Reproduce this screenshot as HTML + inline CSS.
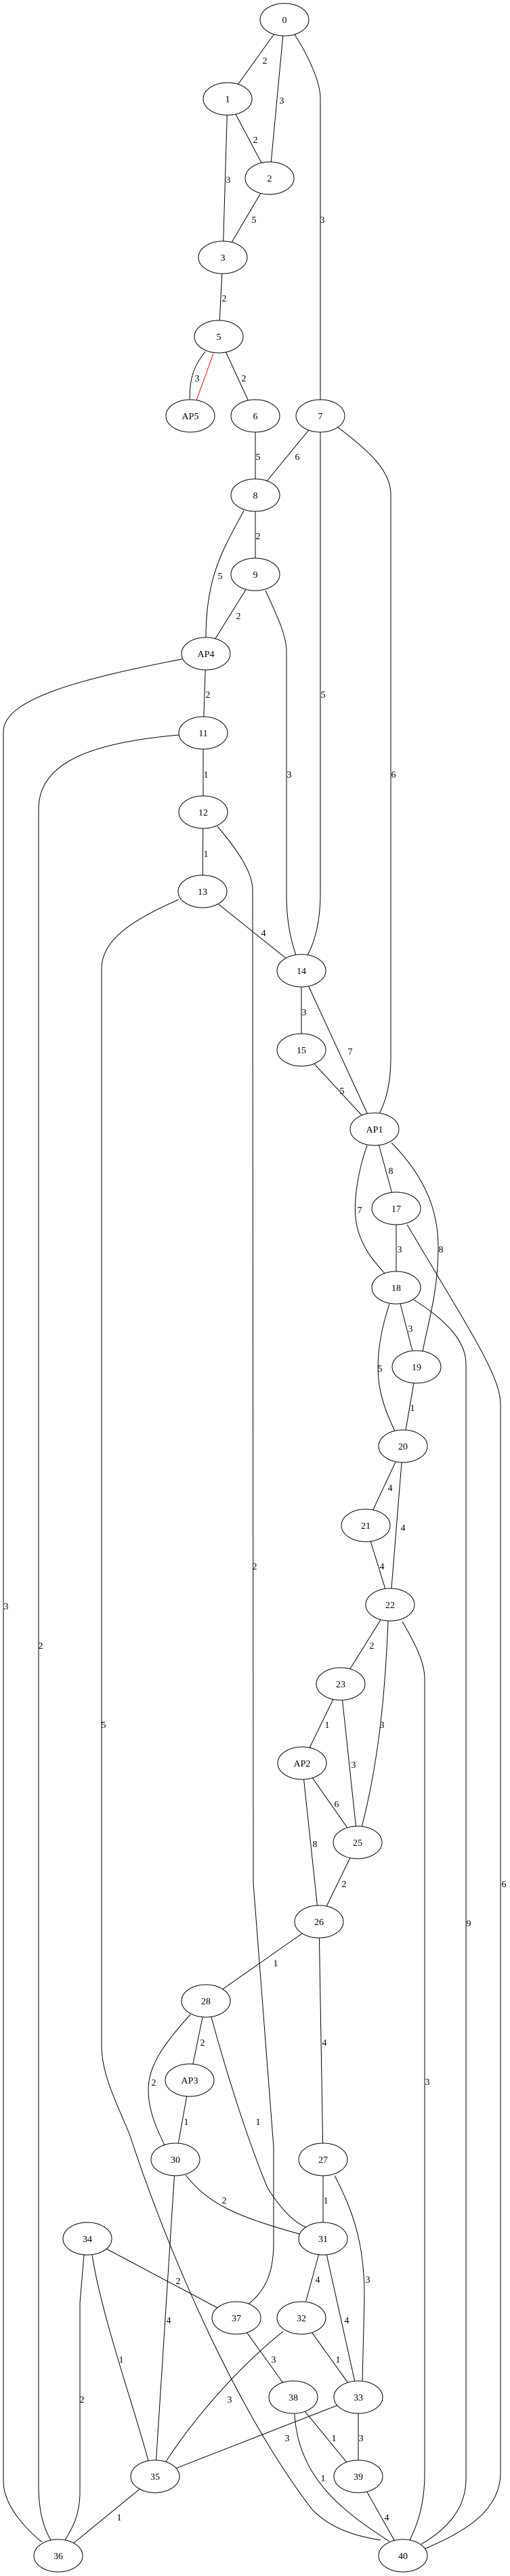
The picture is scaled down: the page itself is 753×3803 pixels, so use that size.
<!DOCTYPE html>
<html><head><meta charset="utf-8"><style>
html,body{margin:0;padding:0;background:#fff;}
svg{display:block;}
text{font-family:"Liberation Serif",serif;font-size:14px;fill:#000;}
.e{fill:none;stroke:#000;stroke-width:1;}
.n{fill:#fff;stroke:#000;stroke-width:1;}
</style></head><body>
<svg width="753" height="3803" viewBox="0 0 753 3803" xmlns="http://www.w3.org/2000/svg">
<g class="e">
<path d="M420,29 L336,146"/>
<path d="M420,29 L398,263"/>
<path d="M435,51 C460,90 473,125 473,145 L473,614"/>
<path d="M336,146 L398,263"/>
<path d="M336,146 L329,380"/>
<path d="M398,263 L329,380"/>
<path d="M329,380 L323,497"/>
<path d="M303,519 C288,538 280,555 280,589"/>
<path d="M315,522 L290,591" style="stroke:#f00"/>
<path d="M323,497 L377,614"/>
<path d="M377,614 L377,731"/>
<path d="M473,614 L377,731"/>
<path d="M473,614 L473,1320 C473,1360 465,1390 454,1410"/>
<path d="M495,628 C545,665 577,695 577,730 L577,1560 C577,1600 570,1625 560,1644"/>
<path d="M377,731 L377,848"/>
<path d="M360,754 C330,810 304,850 304,941"/>
<path d="M377,848 L304,965"/>
<path d="M392,872 C412,915 423,940 423,962 L423,1322 C423,1360 430,1390 437,1410"/>
<path d="M304,965 L300,1082"/>
<path d="M269,973 C130,1000 5,1030 5,1080 L5,3663 C5,3700 40,3735 62,3753"/>
<path d="M264,1085 C150,1095 57,1120 57,1194 L57,3670 C57,3710 66,3735 75,3750"/>
<path d="M300,1082 L300,1199"/>
<path d="M300,1199 L299,1316"/>
<path d="M321,1220 C355,1260 373,1290 373,1314 L374,2780 L404,3170 L404,3310 C404,3350 395,3380 366,3402"/>
<path d="M299,1316 L445,1433"/>
<path d="M264,1328 C190,1360 150,1390 150,1430 L150,3020 C150,3065 175,3110 192,3153 C250,3330 350,3560 461,3705 C490,3735 530,3745 562,3750"/>
<path d="M445,1433 L445,1550"/>
<path d="M445,1433 L553,1667"/>
<path d="M445,1550 L553,1667"/>
<path d="M553,1667 L585,1784"/>
<path d="M542,1691 C528,1730 520,1780 527,1810 C535,1845 555,1865 569,1881"/>
<path d="M578,1687 C630,1740 647,1790 647,1841 C647,1910 630,1960 624,1996"/>
<path d="M585,1784 L585,1901"/>
<path d="M601,1808 L650,1890 C710,1990 739,2040 739,2073 L739,3650 C739,3710 680,3740 627,3763"/>
<path d="M585,1901 L615,2018"/>
<path d="M575,1925 C560,1970 555,2010 560,2045 C565,2075 575,2095 583,2113"/>
<path d="M611,1919 C660,1950 688,1980 688,2014 L688,3660 C688,3710 650,3740 622,3756"/>
<path d="M615,2018 L595,2135"/>
<path d="M595,2135 L540,2252"/>
<path d="M595,2135 L576,2369"/>
<path d="M540,2252 L576,2369"/>
<path d="M576,2369 L503,2486"/>
<path d="M574,2369 C570,2480 562,2600 528,2720"/>
<path d="M594,2394 C615,2430 627,2455 627,2479 L627,3651 C627,3700 615,3730 605,3750"/>
<path d="M503,2486 L446,2603"/>
<path d="M503,2486 L528,2720"/>
<path d="M446,2603 L528,2720"/>
<path d="M446,2603 L471,2837"/>
<path d="M528,2720 L471,2837"/>
<path d="M471,2837 L304,2954"/>
<path d="M471,2837 L477,3188"/>
<path d="M304,2954 L280,3071"/>
<path d="M281,2974 C240,3020 219,3050 219,3085 C219,3120 235,3150 245,3171"/>
<path d="M312,2978 C340,3080 370,3170 395,3230 C420,3270 445,3290 462,3290"/>
<path d="M280,3071 L259,3188"/>
<path d="M274,3211 C305,3250 340,3270 442,3298"/>
<path d="M259,3188 L229,3656"/>
<path d="M477,3188 L477,3305"/>
<path d="M494,3212 C525,3270 538,3320 538,3390 L535,3518"/>
<path d="M477,3305 L445,3422"/>
<path d="M477,3305 L529,3539"/>
<path d="M129,3305 L349,3422"/>
<path d="M136,3329 C150,3420 200,3560 219,3633"/>
<path d="M124,3329 L118,3400 L118,3680 C118,3715 105,3735 96,3750"/>
<path d="M349,3422 L433,3539"/>
<path d="M445,3422 L529,3539"/>
<path d="M418,3442 C370,3480 300,3550 245,3634"/>
<path d="M529,3539 L229,3656"/>
<path d="M529,3539 L529,3656"/>
<path d="M433,3539 L529,3656"/>
<path d="M435,3564 C440,3660 510,3710 575,3752"/>
<path d="M529,3656 L595,3773"/>
<path d="M229,3656 L86,3773"/>
</g>
<g class="n">
<ellipse cx="420" cy="29" rx="36" ry="24"/>
<ellipse cx="336" cy="146" rx="36" ry="24"/>
<ellipse cx="398" cy="263" rx="36" ry="24"/>
<ellipse cx="329" cy="380" rx="36" ry="24"/>
<ellipse cx="323" cy="497" rx="36" ry="24"/>
<ellipse cx="281" cy="614" rx="36" ry="24"/>
<ellipse cx="377" cy="614" rx="36" ry="24"/>
<ellipse cx="473" cy="614" rx="36" ry="24"/>
<ellipse cx="377" cy="731" rx="36" ry="24"/>
<ellipse cx="377" cy="848" rx="36" ry="24"/>
<ellipse cx="304" cy="965" rx="36" ry="24"/>
<ellipse cx="300" cy="1082" rx="36" ry="24"/>
<ellipse cx="300" cy="1199" rx="36" ry="24"/>
<ellipse cx="299" cy="1316" rx="36" ry="24"/>
<ellipse cx="445" cy="1433" rx="36" ry="24"/>
<ellipse cx="445" cy="1550" rx="36" ry="24"/>
<ellipse cx="553" cy="1667" rx="36" ry="24"/>
<ellipse cx="585" cy="1784" rx="36" ry="24"/>
<ellipse cx="585" cy="1901" rx="36" ry="24"/>
<ellipse cx="615" cy="2018" rx="36" ry="24"/>
<ellipse cx="595" cy="2135" rx="36" ry="24"/>
<ellipse cx="540" cy="2252" rx="36" ry="24"/>
<ellipse cx="576" cy="2369" rx="36" ry="24"/>
<ellipse cx="503" cy="2486" rx="36" ry="24"/>
<ellipse cx="446" cy="2603" rx="36" ry="24"/>
<ellipse cx="528" cy="2720" rx="36" ry="24"/>
<ellipse cx="471" cy="2837" rx="36" ry="24"/>
<ellipse cx="304" cy="2954" rx="36" ry="24"/>
<ellipse cx="280" cy="3071" rx="36" ry="24"/>
<ellipse cx="259" cy="3188" rx="36" ry="24"/>
<ellipse cx="477" cy="3188" rx="36" ry="24"/>
<ellipse cx="129" cy="3305" rx="36" ry="24"/>
<ellipse cx="477" cy="3305" rx="36" ry="24"/>
<ellipse cx="349" cy="3422" rx="36" ry="24"/>
<ellipse cx="445" cy="3422" rx="36" ry="24"/>
<ellipse cx="433" cy="3539" rx="36" ry="24"/>
<ellipse cx="529" cy="3539" rx="36" ry="24"/>
<ellipse cx="229" cy="3656" rx="36" ry="24"/>
<ellipse cx="529" cy="3656" rx="36" ry="24"/>
<ellipse cx="86" cy="3773" rx="36" ry="24"/>
<ellipse cx="595" cy="3773" rx="36" ry="24"/>
</g>
<g text-anchor="middle">
<text x="420" y="34">0</text><text x="336" y="151">1</text><text x="398" y="268">2</text>
<text x="329" y="385">3</text><text x="323" y="502">5</text><text x="281" y="619">AP5</text>
<text x="377" y="619">6</text><text x="473" y="619">7</text><text x="377" y="736">8</text>
<text x="377" y="853">9</text><text x="304" y="970">AP4</text><text x="300" y="1087">11</text>
<text x="300" y="1204">12</text><text x="299" y="1321">13</text><text x="445" y="1438">14</text>
<text x="445" y="1555">15</text><text x="553" y="1672">AP1</text><text x="585" y="1789">17</text>
<text x="585" y="1906">18</text><text x="615" y="2023">19</text><text x="595" y="2140">20</text>
<text x="540" y="2257">21</text><text x="576" y="2374">22</text><text x="503" y="2491">23</text>
<text x="446" y="2608">AP2</text><text x="528" y="2725">25</text><text x="471" y="2842">26</text>
<text x="304" y="2959">28</text><text x="280" y="3076">AP3</text><text x="259" y="3193">30</text>
<text x="477" y="3193">27</text><text x="129" y="3310">34</text><text x="477" y="3310">31</text>
<text x="349" y="3427">37</text><text x="445" y="3427">32</text><text x="433" y="3544">38</text>
<text x="529" y="3544">33</text><text x="229" y="3661">35</text><text x="529" y="3661">39</text>
<text x="86" y="3778">36</text><text x="595" y="3778">40</text>
</g>
<g text-anchor="middle">
<text x="391" y="94">2</text><text x="416" y="153">3</text><text x="476" y="329">3</text>
<text x="377" y="211">2</text><text x="337" y="270">3</text><text x="375" y="329">5</text>
<text x="331" y="445">2</text><text x="291" y="563">3</text><text x="360" y="563">2</text>
<text x="381" y="679">5</text><text x="439" y="679">6</text><text x="381" y="796">2</text>
<text x="325" y="855">5</text><text x="352" y="914">2</text><text x="477" y="1030">5</text>
<text x="307" y="1030">2</text><text x="304" y="1148">1</text><text x="427" y="1148">3</text>
<text x="581" y="1148">6</text><text x="304" y="1265">1</text><text x="389" y="1382">4</text>
<text x="449" y="1499">3</text><text x="517" y="1557">7</text><text x="505" y="1615">5</text>
<text x="577" y="1733">8</text><text x="531" y="1791">7</text><text x="651" y="1849">8</text>
<text x="590" y="1849">3</text><text x="606" y="1966">3</text><text x="561" y="2025">5</text>
<text x="609" y="2083">1</text><text x="576" y="2201">4</text><text x="595" y="2260">4</text>
<text x="564" y="2317">4</text><text x="376" y="2317">2</text><text x="9" y="2376">3</text>
<text x="60" y="2434">2</text><text x="549" y="2434">2</text><text x="153" y="2551">5</text>
<text x="483" y="2551">1</text><text x="564" y="2551">3</text><text x="522" y="2610">3</text>
<text x="497" y="2668">6</text><text x="465" y="2727">8</text><text x="508" y="2786">2</text>
<text x="744" y="2786">6</text><text x="692" y="2844">9</text><text x="407" y="2903">1</text>
<text x="479" y="3020">4</text><text x="299" y="3020">2</text><text x="227" y="3079">2</text>
<text x="631" y="3078">3</text><text x="381" y="3137">1</text><text x="275" y="3137">1</text>
<text x="331" y="3253">2</text><text x="481" y="3253">1</text><text x="543" y="3370">3</text>
<text x="469" y="3370">4</text><text x="263" y="3372">2</text><text x="512" y="3430">4</text>
<text x="249" y="3430">4</text><text x="179" y="3488">1</text><text x="404" y="3488">3</text>
<text x="499" y="3488">1</text><text x="121" y="3547">2</text><text x="339" y="3547">3</text>
<text x="424" y="3604">3</text><text x="493" y="3604">1</text><text x="533" y="3604">3</text>
<text x="477" y="3663">1</text><text x="571" y="3721">4</text><text x="176" y="3721">1</text>
</g>
</svg>
</body></html>
